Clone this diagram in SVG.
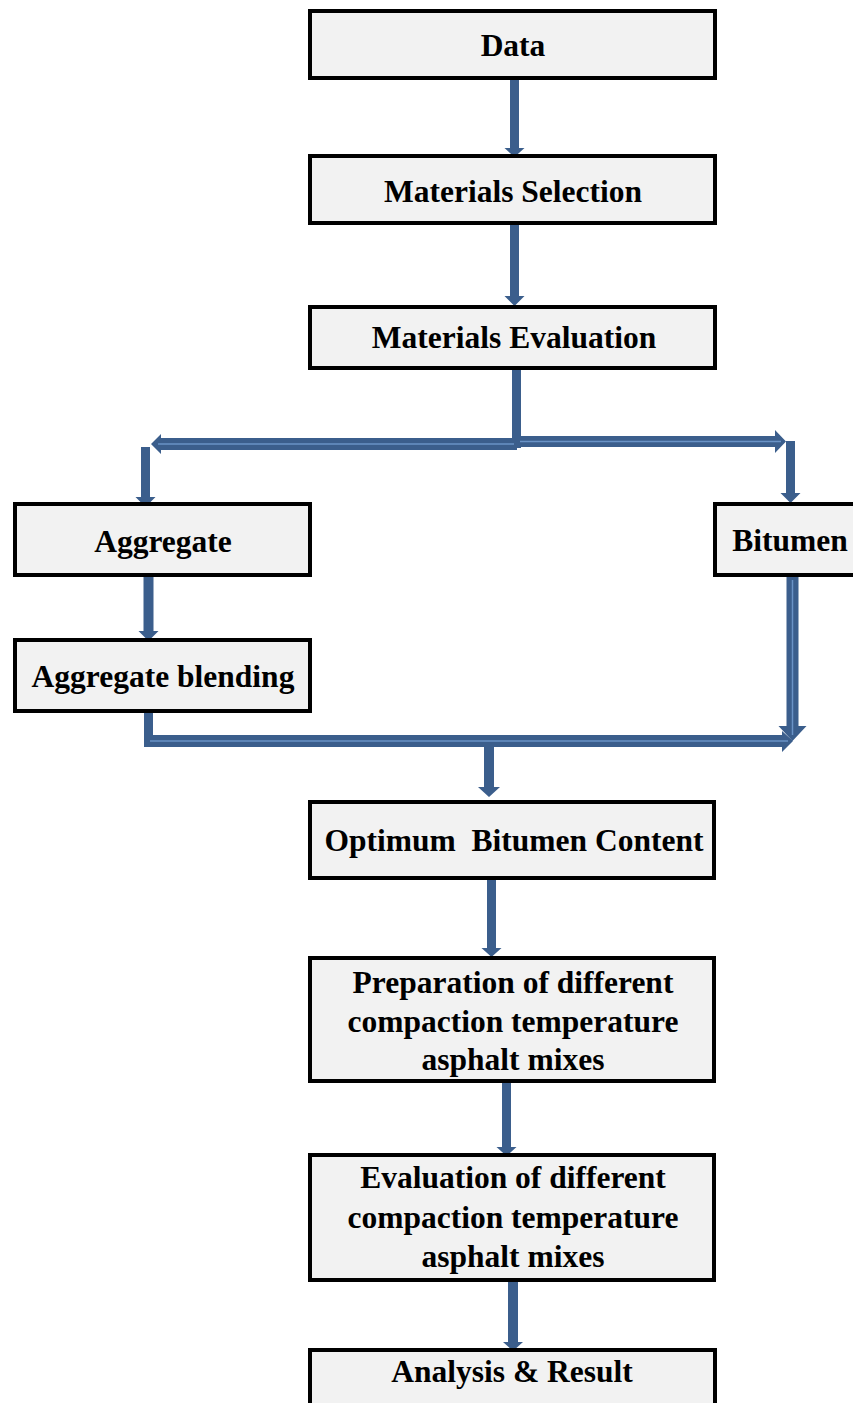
<svg xmlns="http://www.w3.org/2000/svg" width="853" height="1403" viewBox="0 0 853 1403">
<style>
.box{fill:#F2F2F2;stroke:#000;stroke-width:4}
.t{font-family:"Liberation Serif","Times New Roman",serif;font-weight:bold;font-size:31.5px;fill:#000;text-anchor:middle}
.a{fill:#3B5E8C}
.hl{stroke:#6A93C6;stroke-width:1.5;fill:none}
</style>
<rect width="853" height="1403" fill="#fff"/>
<g id="connectors">
<polygon class="a" points="510,80 519,80 519,148 524.5,148 514.5,157 504.5,148 510,148"/>
<polygon class="a" points="510,225 519,225 519,296 524.5,296 514.5,306 504.5,296 510,296"/>
<rect class="a" x="512" y="369" width="9" height="79"/>
<polygon class="a" points="517,438 161,438 161,434 151,444 161,454 161,450 517,450"/>
<line class="hl" x1="158" y1="444" x2="514" y2="444"/>
<polygon class="a" points="517,436 775,436 775,430 786,441.5 775,453 775,447 517,447"/>
<line class="hl" x1="520" y1="441.5" x2="781" y2="441.5"/>
<polygon class="a" points="141,447 150,447 150,497 155.5,497 145.5,507 135.5,497 141,497"/>
<polygon class="a" points="786,441 795,441 795,493 800.5,493 790.5,503 780.5,493 786,493"/>
<polygon class="a" points="143.5,577 153.5,577 153.5,631 158.5,631 148.5,641 138.5,631 143.5,631"/>
<polygon class="a" points="144,712 153,712 153,735 144,735"/>
<polygon class="a" points="144,735 782,735 782,731 793,741 782,752 782,747 144,747"/>
<line class="hl" x1="150" y1="741" x2="788" y2="741"/>
<polygon class="a" points="786.5,577 798.5,577 798.5,726 806.5,726 792.5,741 778.5,726 786.5,726"/>
<line class="hl" x1="792.5" y1="580" x2="792.5" y2="735"/>
<polygon class="a" points="484,747 494,747 494,787 500,787 489,797 478,787 484,787"/>
<polygon class="a" points="487,880 496,880 496,948 501.5,948 491.5,957 481.5,948 487,948"/>
<polygon class="a" points="502,1083 511,1083 511,1147 516.5,1147 506.5,1156 496.5,1147 502,1147"/>
<polygon class="a" points="508,1282 518,1282 518,1342 523,1342 513,1351 503,1342 508,1342"/>
</g>
<g id="data"><rect class="box" x="310" y="11" width="405" height="67"/><text class="t" x="513" y="56">Data</text></g>
<g id="materials-selection"><rect class="box" x="310" y="156" width="405" height="67"/><text class="t" x="513" y="202">Materials Selection</text></g>
<g id="materials-evaluation"><rect class="box" x="310" y="307" width="405" height="61"/><text class="t" x="514" y="348">Materials Evaluation</text></g>
<g id="aggregate"><rect class="box" x="15" y="504" width="295" height="71"/><text class="t" x="163" y="552">Aggregate</text></g>
<g id="bitumen"><rect class="box" x="715" y="504" width="160" height="71"/><text class="t" x="790" y="551">Bitumen</text></g>
<g id="aggregate-blending"><rect class="box" x="15" y="640" width="295" height="71"/><text class="t" x="163" y="687">Aggregate blending</text></g>
<g id="optimum-bitumen-content"><rect class="box" x="310" y="802" width="404" height="76"/><text class="t" x="514" y="851" xml:space="preserve">Optimum  Bitumen Content</text></g>
<g id="preparation"><rect class="box" x="310" y="958" width="404" height="123"/>
<text class="t" x="513" y="993">Preparation of different</text>
<text class="t" x="513" y="1032">compaction temperature</text>
<text class="t" x="513" y="1070">asphalt mixes</text></g>
<g id="evaluation"><rect class="box" x="310" y="1155" width="404" height="125"/>
<text class="t" x="513" y="1188">Evaluation of different</text>
<text class="t" x="513" y="1228">compaction temperature</text>
<text class="t" x="513" y="1267">asphalt mixes</text></g>
<g id="analysis-result"><rect class="box" x="310" y="1350" width="405" height="70"/><text class="t" x="512" y="1382">Analysis &amp; Result</text></g>
</svg>
